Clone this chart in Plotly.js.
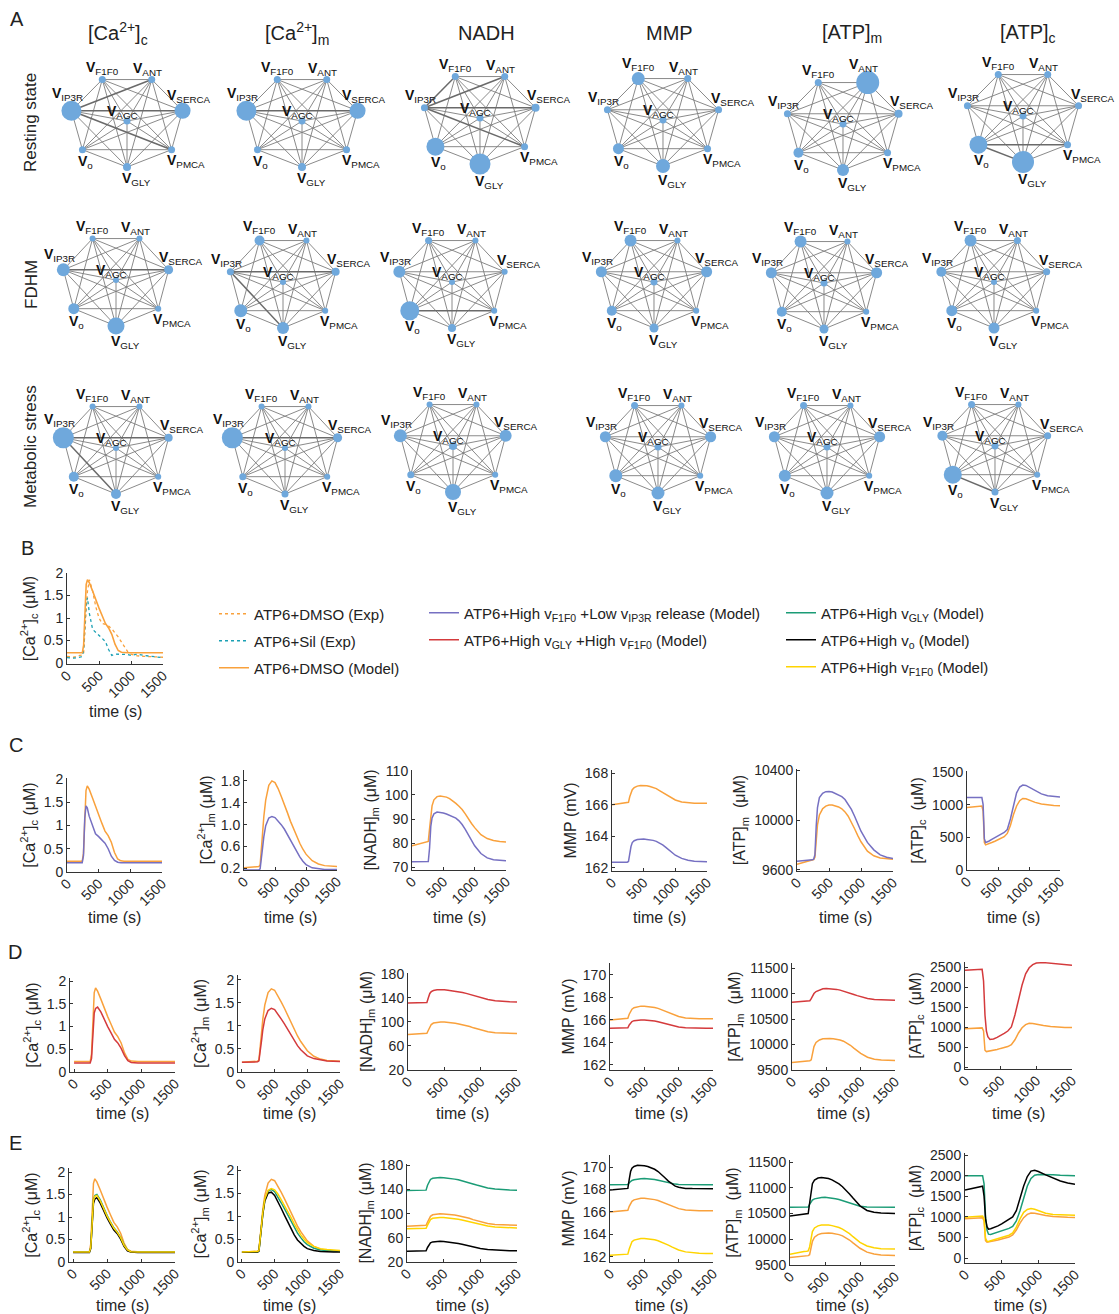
<!DOCTYPE html>
<html><head><meta charset="utf-8">
<script src="https://cdn.plot.ly/plotly-3.0.1.min.js"></script>
<style>body{margin:0;background:#fff}#chart{width:1119px;height:1314px}</style>
</head><body><div id="chart"></div>
<script>
// ---------------- DATA ----------------
const TIME = [0,100,200,240,260,280,300,320,350,400,450,500,550,600,650,700,750,800,850,900,950,1000,1100,1200,1300,1400,1500];
const X_TICKS = [0,500,1000,1500];
const X_TICKTEXT = ['0','500','1000','1500'];

// Panel B experimental traces
const CAC_DMSO_EXP = [0.15,0.13,0.17,0.18,0.22,0.60,1.20,1.60,1.85,1.60,1.25,1.00,0.88,0.86,0.82,0.76,0.68,0.58,0.47,0.36,0.25,0.20,0.16,0.15,0.14,0.14,0.13];
const CAC_SIL_EXP  = [0.12,0.11,0.13,0.15,0.30,0.90,1.35,1.45,1.10,0.75,0.68,0.62,0.55,0.48,0.30,0.17,0.20,0.20,0.19,0.20,0.19,0.17,0.20,0.17,0.15,0.14,0.12];

// [Ca2+]c
const CAC_DMSO      = [0.23,0.23,0.23,0.23,0.40,1.30,1.75,1.85,1.78,1.60,1.40,1.22,1.05,0.88,0.78,0.64,0.42,0.28,0.24,0.23,0.23,0.23,0.23,0.23,0.23,0.23,0.23];
const CAC_F1F0_LOWIP3R = [0.20,0.20,0.20,0.20,0.35,1.15,1.42,1.38,1.20,1.00,0.82,0.76,0.70,0.62,0.50,0.34,0.25,0.21,0.20,0.20,0.20,0.20,0.20,0.20,0.20,0.20,0.20];
const CAC_GLY_F1F0  = [0.20,0.20,0.20,0.20,0.30,0.95,1.30,1.40,1.43,1.32,1.15,1.00,0.86,0.72,0.64,0.52,0.36,0.25,0.21,0.20,0.20,0.20,0.20,0.20,0.20,0.20,0.20];
const CAC_GLY       = [0.22,0.22,0.22,0.22,0.32,1.00,1.38,1.48,1.50,1.38,1.20,1.04,0.89,0.76,0.67,0.55,0.38,0.27,0.23,0.22,0.22,0.22,0.22,0.22,0.22,0.22,0.22];
const CAC_VO        = [0.21,0.21,0.21,0.21,0.30,0.95,1.30,1.40,1.43,1.31,1.14,0.98,0.84,0.71,0.63,0.51,0.35,0.25,0.22,0.21,0.21,0.21,0.21,0.21,0.21,0.21,0.21];
const CAC_F1F0      = [0.22,0.22,0.22,0.22,0.32,1.00,1.36,1.46,1.48,1.36,1.18,1.02,0.88,0.75,0.66,0.54,0.37,0.27,0.23,0.22,0.22,0.22,0.22,0.22,0.22,0.22,0.22];

// [Ca2+]m
const CAM_DMSO      = [0.21,0.22,0.23,0.235,0.26,0.50,0.85,1.15,1.45,1.72,1.80,1.77,1.66,1.52,1.38,1.22,1.06,0.92,0.78,0.66,0.55,0.46,0.34,0.28,0.25,0.24,0.235];
const CAM_F1F0_LOWIP3R = [0.17,0.17,0.17,0.17,0.19,0.35,0.58,0.78,0.98,1.12,1.15,1.13,1.07,1.00,0.92,0.82,0.71,0.60,0.50,0.41,0.33,0.27,0.21,0.19,0.18,0.18,0.18];
const CAM_GLY_F1F0  = [0.21,0.21,0.22,0.22,0.24,0.42,0.68,0.92,1.15,1.33,1.38,1.35,1.26,1.15,1.04,0.92,0.80,0.68,0.57,0.48,0.41,0.35,0.29,0.26,0.24,0.235,0.23];
const CAM_GLY       = [0.21,0.21,0.22,0.22,0.24,0.46,0.78,1.06,1.35,1.54,1.58,1.53,1.42,1.29,1.16,1.02,0.88,0.75,0.63,0.53,0.44,0.38,0.30,0.26,0.245,0.24,0.24];
const CAM_VO        = [0.21,0.21,0.22,0.22,0.24,0.46,0.78,1.05,1.33,1.50,1.52,1.45,1.32,1.17,1.02,0.87,0.72,0.59,0.48,0.40,0.34,0.29,0.25,0.23,0.22,0.22,0.22];
const CAM_F1F0      = [0.22,0.22,0.23,0.23,0.25,0.47,0.80,1.08,1.37,1.56,1.60,1.57,1.48,1.36,1.24,1.10,0.97,0.83,0.70,0.59,0.50,0.42,0.34,0.29,0.27,0.26,0.25];

// [NADH]m
const NADH_DMSO     = [79.0,79.6,80.2,80.4,80.8,86.0,92.0,95.5,98.0,99.3,99.6,99.5,99.1,98.5,97.6,96.5,95.3,94.0,92.2,90.0,88.2,86.5,83.6,82.0,81.2,80.8,80.6];
const NADH_F1F0_LOWIP3R = [72.4,72.4,72.4,72.4,72.5,78.0,87.0,90.5,92.2,92.9,92.8,92.5,92.1,91.6,91.0,90.4,89.3,87.8,85.8,83.5,81.0,79.0,75.8,74.0,73.2,72.9,72.8];
const NADH_GLY_F1F0 = [131.0,131.2,131.5,131.6,132.0,140.0,147.0,150.0,152.0,153.0,153.3,153.0,152.5,151.8,151.0,150.0,148.7,147.2,145.5,143.6,141.7,140.0,137.0,135.0,133.8,133.2,132.8];
const NADH_GLY      = [138.0,138.0,138.2,138.3,138.8,147.0,153.5,156.5,158.5,159.5,159.6,159.3,158.8,158.0,157.0,155.8,154.4,152.8,151.0,149.0,147.2,145.5,142.5,140.5,139.4,138.9,138.7];
const NADH_VO       = [37.8,38.0,38.2,38.3,38.6,44.0,49.0,51.5,53.2,54.0,54.1,53.8,53.2,52.5,51.6,50.5,49.2,47.8,46.3,44.8,43.4,42.2,40.6,39.6,39.1,38.8,38.7];
const NADH_F1F0     = [74.8,75.0,75.3,75.4,75.7,81.0,87.0,90.0,92.2,93.2,93.5,93.4,93.0,92.4,91.6,90.6,89.4,88.0,86.5,84.8,83.2,81.8,79.4,77.9,77.0,76.5,76.3];

// MMP
const MMP_DMSO      = [166.0,166.05,166.1,166.12,166.15,166.5,166.8,166.95,167.08,167.18,167.22,167.22,167.2,167.15,167.1,167.02,166.9,166.78,166.65,166.52,166.4,166.3,166.17,166.12,166.1,166.1,166.1];
const MMP_F1F0_LOWIP3R = [162.35,162.35,162.35,162.36,162.4,162.9,163.35,163.6,163.72,163.8,163.83,163.83,163.8,163.78,163.74,163.68,163.58,163.45,163.3,163.12,162.95,162.8,162.6,162.48,162.42,162.39,162.38];
const MMP_GLY_F1F0  = [165.25,165.25,165.26,165.27,165.3,165.55,165.75,165.85,165.93,165.98,166.0,166.0,165.98,165.95,165.9,165.84,165.76,165.67,165.58,165.5,165.42,165.36,165.3,165.27,165.26,165.25,165.25];
const MMP_GLY       = [168.42,168.42,168.42,168.42,168.45,168.6,168.72,168.8,168.87,168.93,168.96,168.97,168.96,168.93,168.88,168.82,168.74,168.66,168.59,168.53,168.48,168.45,168.43,168.42,168.42,168.42,168.42];
const MMP_VO        = [167.95,168.0,168.05,168.07,168.1,168.9,169.6,169.9,170.05,170.15,170.15,170.12,170.05,169.95,169.8,169.6,169.35,169.05,168.75,168.5,168.3,168.2,168.1,168.08,168.07,168.07,168.07];
const MMP_F1F0      = [162.15,162.17,162.2,162.22,162.25,162.7,163.1,163.35,163.5,163.6,163.65,163.65,163.62,163.58,163.52,163.44,163.33,163.2,163.05,162.9,162.75,162.62,162.45,162.36,162.32,162.3,162.3];

// [ATP]m
const ATPM_DMSO     = [9645,9660,9672,9676,9682,9700,9850,9960,10040,10090,10112,10120,10120,10115,10105,10090,10065,10030,9985,9930,9875,9825,9750,9712,9695,9688,9684];
const ATPM_F1F0_LOWIP3R = [9668,9672,9678,9680,9685,9720,9950,10100,10180,10215,10228,10230,10225,10212,10200,10188,10165,10130,10085,10030,9970,9910,9820,9760,9720,9700,9690];
const ATPM_GLY_F1F0 = [10830,10840,10850,10852,10860,10900,10960,11000,11040,11075,11095,11100,11098,11092,11082,11068,11050,11028,11005,10982,10960,10940,10905,10885,10875,10870,10868];
const ATPM_GLY      = [10620,10620,10620,10620,10625,10680,10730,10760,10785,10805,10812,10815,10810,10800,10788,10772,10750,10725,10700,10675,10655,10640,10625,10620,10620,10620,10620];
const ATPM_VO       = [10450,10470,10490,10495,10500,10700,10950,11080,11150,11190,11200,11195,11180,11155,11120,11075,11020,10955,10880,10800,10720,10650,10560,10525,10510,10505,10502];
const ATPM_F1F0     = [9710,9740,9762,9766,9775,9850,10020,10150,10220,10260,10275,10280,10275,10265,10250,10228,10198,10160,10110,10050,9990,9940,9870,9835,9818,9812,9810];

// [ATP]c
const ATPC_DMSO     = [955,965,975,978,900,420,385,390,400,420,440,465,490,510,560,680,850,980,1060,1095,1090,1070,1035,1010,995,988,985];
const ATPC_F1F0_LOWIP3R = [1108,1108,1108,1108,1000,480,420,425,440,470,500,525,550,575,620,780,1000,1180,1270,1300,1295,1270,1210,1165,1135,1122,1116];
const ATPC_GLY_F1F0 = [2420,2430,2440,2442,2150,1300,900,760,690,700,740,780,840,900,1000,1300,1700,2050,2330,2480,2560,2600,2610,2590,2570,2555,2545];
const ATPC_GLY      = [2000,2000,2000,2000,1800,1000,680,580,570,600,630,660,690,720,770,900,1150,1450,1750,1930,2010,2030,2030,2020,2010,2005,2000];
const ATPC_VO       = [1650,1690,1730,1745,1500,950,760,700,710,740,780,830,880,930,1000,1150,1450,1750,1980,2110,2130,2100,2020,1940,1870,1820,1790];
const ATPC_F1F0     = [990,1000,1015,1020,950,480,410,405,420,445,470,500,525,555,610,750,950,1110,1180,1200,1185,1150,1090,1060,1048,1042,1040];

// Network (panel A)
const NODES = ['F1F0','ANT','SERCA','PMCA','GLY','o','IP3R','AGC'];
const VARIABLES = ['[Ca<sup>2+</sup>]<sub>c</sub>','[Ca<sup>2+</sup>]<sub>m</sub>','NADH','MMP','[ATP]<sub>m</sub>','[ATP]<sub>c</sub>'];
const STATES = ['Resting state','FDHM','Metabolic stress'];
// node importance (marker diameter) per state, per variable, node order as NODES
const SIZE_RESTING = [[7,7,16,7,8,7,20,7],[7,7,16,7,8,7,20,7],[7,7,8,7,21,18,7,7],[13,7,7,7,14,11,7,7],[7,23,8,7,12,10,7,7],[7,7,7,7,22,18,7,7]];
const SIZE_FDHM    = [[6,6,9,6,17,11,13,6],[10,6,8,6,12,13,7,6],[7,6,6,6,8,19,12,6],[12,6,11,6,9,10,11,7],[12,6,11,6,9,10,11,7],[12,7,7,6,11,11,10,6]];
const SIZE_STRESS  = [[6,6,8,6,10,10,21,6],[6,6,9,6,7,7,21,6],[6,6,12,6,16,7,13,8],[7,6,11,6,13,13,11,7],[7,6,11,6,13,12,11,7],[7,6,7,6,7,18,10,7]];
// strong edges (node index pairs) per state, per variable
const STRONG_RESTING = [[[6,2],[6,1],[6,3]],[[6,2]],[[6,1],[6,2],[6,3],[6,0]],[],[],[[5,4],[5,3]]];
const STRONG_FDHM    = [[[6,2]],[[6,4],[6,2]],[[5,3]],[],[],[]];
const STRONG_STRESS  = [[[6,4],[6,2]],[[6,2]],[],[],[],[[5,4]]];

// Legend names
const NAME_DMSO_EXP = 'ATP6+DMSO (Exp)';
const NAME_SIL_EXP = 'ATP6+Sil (Exp)';
const NAME_DMSO = 'ATP6+DMSO (Model)';
const NAME_F1F0_LOWIP3R = 'ATP6+High v<sub>F1F0</sub> +Low v<sub>IP3R</sub> release (Model)';
const NAME_GLY_F1F0 = 'ATP6+High v<sub>GLY</sub> +High v<sub>F1F0</sub> (Model)';
const NAME_GLY = 'ATP6+High v<sub>GLY</sub> (Model)';
const NAME_VO = 'ATP6+High v<sub>o</sub> (Model)';
const NAME_F1F0 = 'ATP6+High v<sub>F1F0</sub> (Model)';

// ---------------- STYLE / LAYOUT ----------------
const W = 1119, H = 1314;
const FONT = 'Liberation Sans, Arial, sans-serif';
const C_ORANGE = '#F9A13C', C_TEAL = '#1AA0B4', C_PURPLE = '#7670C2', C_RED = '#D43A3C',
      C_GREEN = '#1B9C76', C_BLACK = '#000000', C_YELLOW = '#FFD400', C_NODE = '#6FA8DC';

const traces = [];
const layout = {
  width: W, height: H, margin: {l:0, r:0, t:0, b:0},
  paper_bgcolor: '#ffffff', plot_bgcolor: 'rgba(0,0,0,0)',
  font: {family: FONT, color: '#222', size: 14},
  hovermode: false, annotations: []
};
let axN = 0;
const sfx = n => n === 1 ? '' : String(n);
const ydom = (top, bottom) => [1 - bottom / H, 1 - top / H];

// ---- Panel A networks ----
const NET_CX = [[127,302,480,663,843,1023],[116,283,452,654,824,994],[116,285,453,658,827,995]];
const NET_CY = [[121,121,118,120,124,116],[280,282,282,282,283,282],[448,448,446,447,447,446]];
const NET_RX = [57,54,54], NET_RY = [46,46,46];
// label offset for a nominal node: [dx, |dy|, vertical sign (+1 above, -1 below)]
const LABEL_OFF = [[0,12,1],[-4,11,1],[14,11,1],[14,11,-1],[9,12,-1],[3,12,-1],[-4,12,1],[-5,9,1]];
const SIZES = [SIZE_RESTING, SIZE_FDHM, SIZE_STRESS];
const STRONG = [STRONG_RESTING, STRONG_FDHM, STRONG_STRESS];

function nodePos(k) {
  if (k === 7) return [0, 0];
  const a = (-90 + (4 - k) * 360 / 7) * Math.PI / 180; // circular (heptagon) layout
  return [Math.cos(a), Math.sin(a)];
}

function addNetwork(r, c) {
  axN++; const s = sfx(axN);
  const cx = NET_CX[r][c], cy = NET_CY[r][c], rx = NET_RX[r], ry = NET_RY[r], E = 1.6;
  layout['xaxis' + s] = {domain: [(cx - E*rx)/W, (cx + E*rx)/W], range: [-E, E], visible: false, fixedrange: true, anchor: 'y' + s};
  layout['yaxis' + s] = {domain: ydom(cy - E*ry, cy + E*ry), range: [-E, E], visible: false, fixedrange: true, anchor: 'x' + s};
  const pos = NODES.map((_, k) => nodePos(k));
  const strong = STRONG[r][c];
  const isStrong = (i, j) => strong.some(p => (p[0] === i && p[1] === j) || (p[0] === j && p[1] === i));
  const ex = [], ey = [], sx = [], sy = [];
  for (let i = 0; i < NODES.length; i++) for (let j = i + 1; j < NODES.length; j++) {
    const tx = isStrong(i, j) ? sx : ex, ty = isStrong(i, j) ? sy : ey;
    tx.push(pos[i][0], pos[j][0], null); ty.push(pos[i][1], pos[j][1], null);
  }
  traces.push({x: ex, y: ey, xaxis: 'x' + s, yaxis: 'y' + s, mode: 'lines', line: {color: '#7d7d7d', width: 0.9}, showlegend: false, hoverinfo: 'skip'});
  traces.push({x: sx, y: sy, xaxis: 'x' + s, yaxis: 'y' + s, mode: 'lines', line: {color: '#6a6a6a', width: 1.5}, showlegend: false, hoverinfo: 'skip'});
  traces.push({x: pos.map(p => p[0]), y: pos.map(p => p[1]), xaxis: 'x' + s, yaxis: 'y' + s, mode: 'markers',
    marker: {size: SIZES[r][c], color: C_NODE, opacity: 1, line: {width: 0}}, cliponaxis: false, showlegend: false, hoverinfo: 'skip'});
  NODES.forEach((nm, k) => {
    const sz = SIZES[r][c][k], off = LABEL_OFF[k];
    let dx = off[0];
    if (nm === 'SERCA') dx = off[0] - (sz - 7) * 0.8;
    const dy = off[2] * (off[1] + Math.max(0, sz - 7) / 2 * 0.8);
    layout.annotations.push({xref: 'x' + s, yref: 'y' + s, x: pos[k][0], y: pos[k][1], showarrow: false,
      xshift: dx, yshift: dy, xanchor: 'center', yanchor: 'middle',
      text: '<b>V</b><sub>' + nm + '</sub>', font: {size: 14, color: '#111', family: FONT}});
  });
}
for (let r = 0; r < 3; r++) for (let c = 0; c < 6; c++) addNetwork(r, c);

// column titles / row labels / panel letters
const TITLE_X = [118, 297, 486, 669, 852, 1028];
VARIABLES.forEach((v, i) => layout.annotations.push({xref: 'paper', yref: 'paper', x: TITLE_X[i]/W, y: 1 - 33/H, text: v, showarrow: false,
  xanchor: 'center', yanchor: 'middle', font: {size: 20, color: '#222'}}));
const ROW_Y = [123, 285, 447];
STATES.forEach((t, i) => layout.annotations.push({xref: 'paper', yref: 'paper', x: 31/W, y: 1 - ROW_Y[i]/H, text: t, textangle: -90,
  showarrow: false, xanchor: 'center', yanchor: 'middle', font: {size: 17, color: '#222'}}));
[['A', 17, 19], ['B', 27, 548], ['C', 16, 745], ['D', 15, 952], ['E', 15, 1143]].forEach(p =>
  layout.annotations.push({xref: 'paper', yref: 'paper', x: p[1]/W, y: 1 - p[2]/H, text: p[0], showarrow: false,
    xanchor: 'center', yanchor: 'middle', font: {size: 20, color: '#222'}}));

// ---- line plots ----
const AX_STYLE = {showline: true, linecolor: '#333', linewidth: 1, ticks: 'inside', ticklen: 3, tickcolor: '#333',
  showgrid: false, zeroline: false, tickfont: {size: 14, color: '#262626'}, fixedrange: true};

// xTitleY: vertical pixel position of the "time (s)" label centre
function addPlot(box, xr, yr, yt, ytt, ytitle, xTitleY, series) {
  axN++; const s = sfx(axN);
  layout['xaxis' + s] = Object.assign({}, AX_STYLE, {domain: [box[0]/W, box[1]/W], range: xr, anchor: 'y' + s,
    tickvals: X_TICKS, ticktext: X_TICKTEXT, tickangle: -45, ticklabelstandoff: -3});
  layout['yaxis' + s] = Object.assign({}, AX_STYLE, {domain: ydom(box[2], box[3]), range: yr, anchor: 'x' + s,
    tickvals: yt, ticktext: ytt, title: {text: ytitle, standoff: 4, font: {size: 16, color: '#262626'}}});
  layout.annotations.push({xref: 'paper', yref: 'paper', x: (box[0] + box[1]) / 2 / W, y: 1 - xTitleY / H,
    text: 'time (s)', showarrow: false, xanchor: 'center', yanchor: 'middle', font: {size: 16, color: '#262626'}});
  series.forEach(sr => {
    const t = {x: TIME, y: sr.y, xaxis: 'x' + s, yaxis: 'y' + s, mode: 'lines',
      line: {color: sr.color, width: sr.width || 1.5, dash: sr.dash || 'solid'}, name: sr.name, showlegend: !!sr.legend, hoverinfo: 'skip'};
    if (sr.legend) t.legend = sr.legend;
    traces.push(t);
  });
}

const YT_CA = [0, 0.5, 1, 1.5, 2], YTT_CA = ['0', '0.5', '1', '1.5', '2'];
const YT_CAM_C = [0.2, 0.6, 1.0, 1.4, 1.8], YTT_CAM_C = ['0.2', '0.6', '1.0', '1.4', '1.8'];
const YT_NADH_C = [70, 80, 90, 100, 110], YTT_NADH_C = ['70', '80', '90', '100', '110'];
const YT_MMP_C = [162, 164, 166, 168], YTT_MMP_C = ['162', '164', '166', '168'];
const YT_ATPM_C = [9600, 10000, 10400], YTT_ATPM_C = ['9600', '10000', '10400'];
const YT_ATPC_C = [0, 500, 1000, 1500], YTT_ATPC_C = ['0', '500', '1000', '1500'];
const YT_NADH = [20, 60, 100, 140, 180], YTT_NADH = ['20', '60', '100', '140', '180'];
const YT_MMP = [162, 164, 166, 168, 170], YTT_MMP = ['162', '164', '166', '168', '170'];
const YT_ATPM = [9500, 10000, 10500, 11000, 11500], YTT_ATPM = ['9500', '10000', '10500', '11000', '11500'];
const YT_ATPC = [0, 500, 1000, 1500, 2000, 2500], YTT_ATPC = ['0', '500', '1000', '1500', '2000', '2500'];

const T_CAC = '[Ca<sup>2+</sup>]<sub>c</sub> (μM)', T_CAM = '[Ca<sup>2+</sup>]<sub>m</sub> (μM)', T_NADH = '[NADH]<sub>m</sub> (μM)',
      T_MMP = 'MMP (mV)', T_ATPM = '[ATP]<sub>m</sub>  (μM)', T_ATPC = '[ATP]<sub>c</sub>  (μM)';

// B
addPlot([67, 163, 573, 664], [0, 1500], [-0.02, 2.0], YT_CA, YTT_CA, T_CAC, 711, [
  {y: CAC_DMSO_EXP, color: C_ORANGE, dash: 'dot', width: 1.3, name: NAME_DMSO_EXP, legend: 'legend'},
  {y: CAC_SIL_EXP, color: C_TEAL, dash: 'dot', width: 1.3, name: NAME_SIL_EXP, legend: 'legend2'},
  {y: CAC_DMSO, color: C_ORANGE, width: 1.6, name: NAME_DMSO, legend: 'legend3'}]);

// C
const orange = y => ({y: y, color: C_ORANGE});
const TY_C = 917, TY_D = 1113, TY_E = 1305;
addPlot([67, 162, 778, 872], [0, 1500], [0, 2.02], YT_CA, YTT_CA, T_CAC, TY_C, [orange(CAC_DMSO), {y: CAC_F1F0_LOWIP3R, color: C_PURPLE, name: NAME_F1F0_LOWIP3R, legend: 'legend4'}]);
addPlot([244, 337, 770, 870], [0, 1500], [0.17, 2.0], YT_CAM_C, YTT_CAM_C, T_CAM, TY_C, [orange(CAM_DMSO), {y: CAM_F1F0_LOWIP3R, color: C_PURPLE}]);
addPlot([412, 506, 770, 870], [0, 1500], [69, 110.3], YT_NADH_C, YTT_NADH_C, T_NADH, TY_C, [orange(NADH_DMSO), {y: NADH_F1F0_LOWIP3R, color: C_PURPLE}]);
addPlot([612, 707, 770, 871], [0, 1500], [161.8, 168.2], YT_MMP_C, YTT_MMP_C, T_MMP, TY_C, [orange(MMP_DMSO), {y: MMP_F1F0_LOWIP3R, color: C_PURPLE}]);
addPlot([797, 893, 769, 871], [0, 1500], [9590, 10410], YT_ATPM_C, YTT_ATPM_C, T_ATPM, TY_C, [orange(ATPM_DMSO), {y: ATPM_F1F0_LOWIP3R, color: C_PURPLE}]);
addPlot([967, 1060, 771, 870], [0, 1500], [0, 1515], YT_ATPC_C, YTT_ATPC_C, T_ATPC, TY_C, [orange(ATPC_DMSO), {y: ATPC_F1F0_LOWIP3R, color: C_PURPLE}]);

// D
addPlot([70, 175, 978, 1072], [-60, 1500], [0, 2.07], YT_CA, YTT_CA, T_CAC, TY_D, [orange(CAC_DMSO), {y: CAC_GLY_F1F0, color: C_RED, name: NAME_GLY_F1F0, legend: 'legend5'}]);
addPlot([238, 340, 975, 1072], [-60, 1500], [0, 2.1], YT_CA, YTT_CA, T_CAM, TY_D, [orange(CAM_DMSO), {y: CAM_GLY_F1F0, color: C_RED}]);
addPlot([408, 517, 973, 1070], [0, 1500], [20, 181], YT_NADH, YTT_NADH, T_NADH, TY_D, [orange(NADH_DMSO), {y: NADH_GLY_F1F0, color: C_RED}]);
addPlot([610, 713, 963, 1070], [0, 1500], [161.55, 171.05], YT_MMP, YTT_MMP, T_MMP, TY_D, [orange(MMP_DMSO), {y: MMP_GLY_F1F0, color: C_RED}]);
addPlot([792, 895, 963, 1070], [0, 1500], [9500, 11600], YT_ATPM, YTT_ATPM, T_ATPM, TY_D, [orange(ATPM_DMSO), {y: ATPM_GLY_F1F0, color: C_RED}]);
addPlot([965, 1072, 962, 1069], [0, 1500], [-50, 2625], YT_ATPC, YTT_ATPC, T_ATPC, TY_D, [orange(ATPC_DMSO), {y: ATPC_GLY_F1F0, color: C_RED}]);

// E
const eSeries = (o, g, b, y, leg) => [orange(o),
  Object.assign({y: g, color: C_GREEN}, leg ? {name: NAME_GLY, legend: 'legend6'} : {}),
  Object.assign({y: b, color: C_BLACK}, leg ? {name: NAME_VO, legend: 'legend7'} : {}),
  Object.assign({y: y, color: C_YELLOW}, leg ? {name: NAME_F1F0, legend: 'legend8'} : {})];
addPlot([69, 175, 1168, 1262], [-60, 1500], [0, 2.09], YT_CA, YTT_CA, T_CAC, TY_E, eSeries(CAC_DMSO, CAC_GLY, CAC_VO, CAC_F1F0, true));
addPlot([238, 340, 1166, 1262], [-60, 1500], [0, 2.09], YT_CA, YTT_CA, T_CAM, TY_E, eSeries(CAM_DMSO, CAM_GLY, CAM_VO, CAM_F1F0));
addPlot([407, 517, 1164, 1262], [0, 1500], [20, 182], YT_NADH, YTT_NADH, T_NADH, TY_E, eSeries(NADH_DMSO, NADH_GLY, NADH_VO, NADH_F1F0));
addPlot([610, 713, 1155, 1262], [0, 1500], [161.55, 171.07], YT_MMP, YTT_MMP, T_MMP, TY_E, eSeries(MMP_DMSO, MMP_GLY, MMP_VO, MMP_F1F0));
addPlot([790, 895, 1160, 1265], [0, 1500], [9500, 11540], YT_ATPM, YTT_ATPM, T_ATPM, TY_E, eSeries(ATPM_DMSO, ATPM_GLY, ATPM_VO, ATPM_F1F0));
addPlot([965, 1075, 1153, 1263], [0, 1500], [-120, 2550], YT_ATPC, YTT_ATPC, T_ATPC, TY_E, eSeries(ATPC_DMSO, ATPC_GLY, ATPC_VO, ATPC_F1F0));

// legends (one per entry, placed like the reference)
const LEG_POS = [[214, 614], [214, 641], [214, 668], [424, 613], [424, 640], [781, 613], [781, 640], [781, 667]];
LEG_POS.forEach((p, i) => {
  layout['legend' + (i === 0 ? '' : String(i + 1))] = {x: p[0]/W, y: 1 - p[1]/H, xanchor: 'left', yanchor: 'middle',
    xref: 'paper', yref: 'paper', bgcolor: 'rgba(0,0,0,0)', borderwidth: 0, itemwidth: 30,
    font: {size: 15, color: '#222', family: FONT}};
});

Plotly.newPlot('chart', traces, layout, {staticPlot: true, displayModeBar: false});
</script></body></html>
